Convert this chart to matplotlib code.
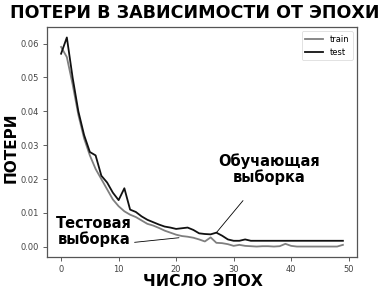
import matplotlib
matplotlib.use("Agg")
import matplotlib.pyplot as plt
import numpy as np

epochs = list(range(50))
train = [0.059, 0.056, 0.048, 0.039, 0.032, 0.027, 0.023, 0.020, 0.017, 0.014,
         0.012, 0.0105, 0.0095, 0.0088, 0.0078, 0.0068, 0.0063, 0.0056, 0.0048, 0.0042,
         0.0036, 0.0032, 0.0030, 0.0027, 0.0022, 0.0016, 0.0028, 0.0012, 0.0011, 0.0008,
         0.0003, 0.0006, 0.0003, 0.0002, 0.0001, 0.0002, 0.0002, 0.0001, 0.0002, 0.0009,
         0.0003, 0.0001, 0.0001, 0.0001, 0.0001, 0.0001, 0.0001, 0.0001, 0.0001, 0.0006]
test = [0.057, 0.0618, 0.050, 0.040, 0.033, 0.028, 0.027, 0.021, 0.019, 0.016,
        0.0138, 0.0173, 0.0110, 0.0103, 0.0090, 0.0080, 0.0073, 0.0066, 0.0060, 0.0057,
        0.0053, 0.0055, 0.0057, 0.0050, 0.0040, 0.0038, 0.0037, 0.0042, 0.0033, 0.0022,
        0.0018, 0.0018, 0.0022, 0.0018, 0.0018, 0.0018, 0.0018, 0.0018, 0.0018, 0.0018,
        0.0018, 0.0018, 0.0018, 0.0018, 0.0018, 0.0018, 0.0018, 0.0018, 0.0018, 0.0018]

title = "ПОТЕРИ В ЗАВИСИМОСТИ ОТ ЭПОХИ"
xlabel = "ЧИСЛО ЭПОХ"
ylabel = "ПОТЕРИ"
ann_train = "Обучающая\nвыборка"
ann_test = "Тестовая\nвыборка"

fig = plt.figure(figsize=(3.9, 2.89), dpi=100)
ax = fig.add_axes([47/390, 1-257/289, 310/390, 230/289])
ax.plot(epochs, train, color="#7f7f7f", lw=1.3, label="train")
ax.plot(epochs, test, color="#111111", lw=1.3, label="test")
ax.set_xticks([0, 10, 20, 30, 40, 50])
ax.set_yticks([0.0, 0.01, 0.02, 0.03, 0.04, 0.05, 0.06])
ax.set_yticklabels(["0.00", "0.01", "0.02", "0.03", "0.04", "0.05", "0.06"])
ax.tick_params(labelsize=6, colors="#444444", length=3, width=0.6, pad=2.5)
for s in ax.spines.values():
    s.set_color("#555555")
    s.set_linewidth(0.9)
leg = ax.legend(loc="upper right", fontsize=6, frameon=True, handlelength=2.2)
leg.get_frame().set_linewidth(0.5)

heavy = dict(family="DejaVu Sans", fontweight="heavy")
fig.text(0.5, 1-13/289, title, ha="center", va="center", fontsize=12.6, **heavy)
fig.text(203/390, 1-281.5/289, xlabel, ha="center", va="center", fontsize=11.3, **heavy)
fig.text(11/390, 1-148/289, ylabel, ha="center", va="center", rotation=90, fontsize=11, **heavy)

ax.annotate(ann_train, xy=(27, 0.0042), xytext=(36.2, 0.0230), ha="center", va="center",
            fontsize=10.5, linespacing=1.05, **heavy,
            arrowprops=dict(arrowstyle="-", color="black", lw=0.6, shrinkA=12, shrinkB=0))
ax.annotate(ann_test, xy=(20.5, 0.0027), xytext=(5.7, 0.0045), ha="center", va="center",
            fontsize=10.5, linespacing=1.05, **heavy,
            arrowprops=dict(arrowstyle="-", color="black", lw=0.6, shrinkA=0, shrinkB=0,
                            relpos=(1.0, 0.15)))

fig.savefig("out.png", dpi=100)
